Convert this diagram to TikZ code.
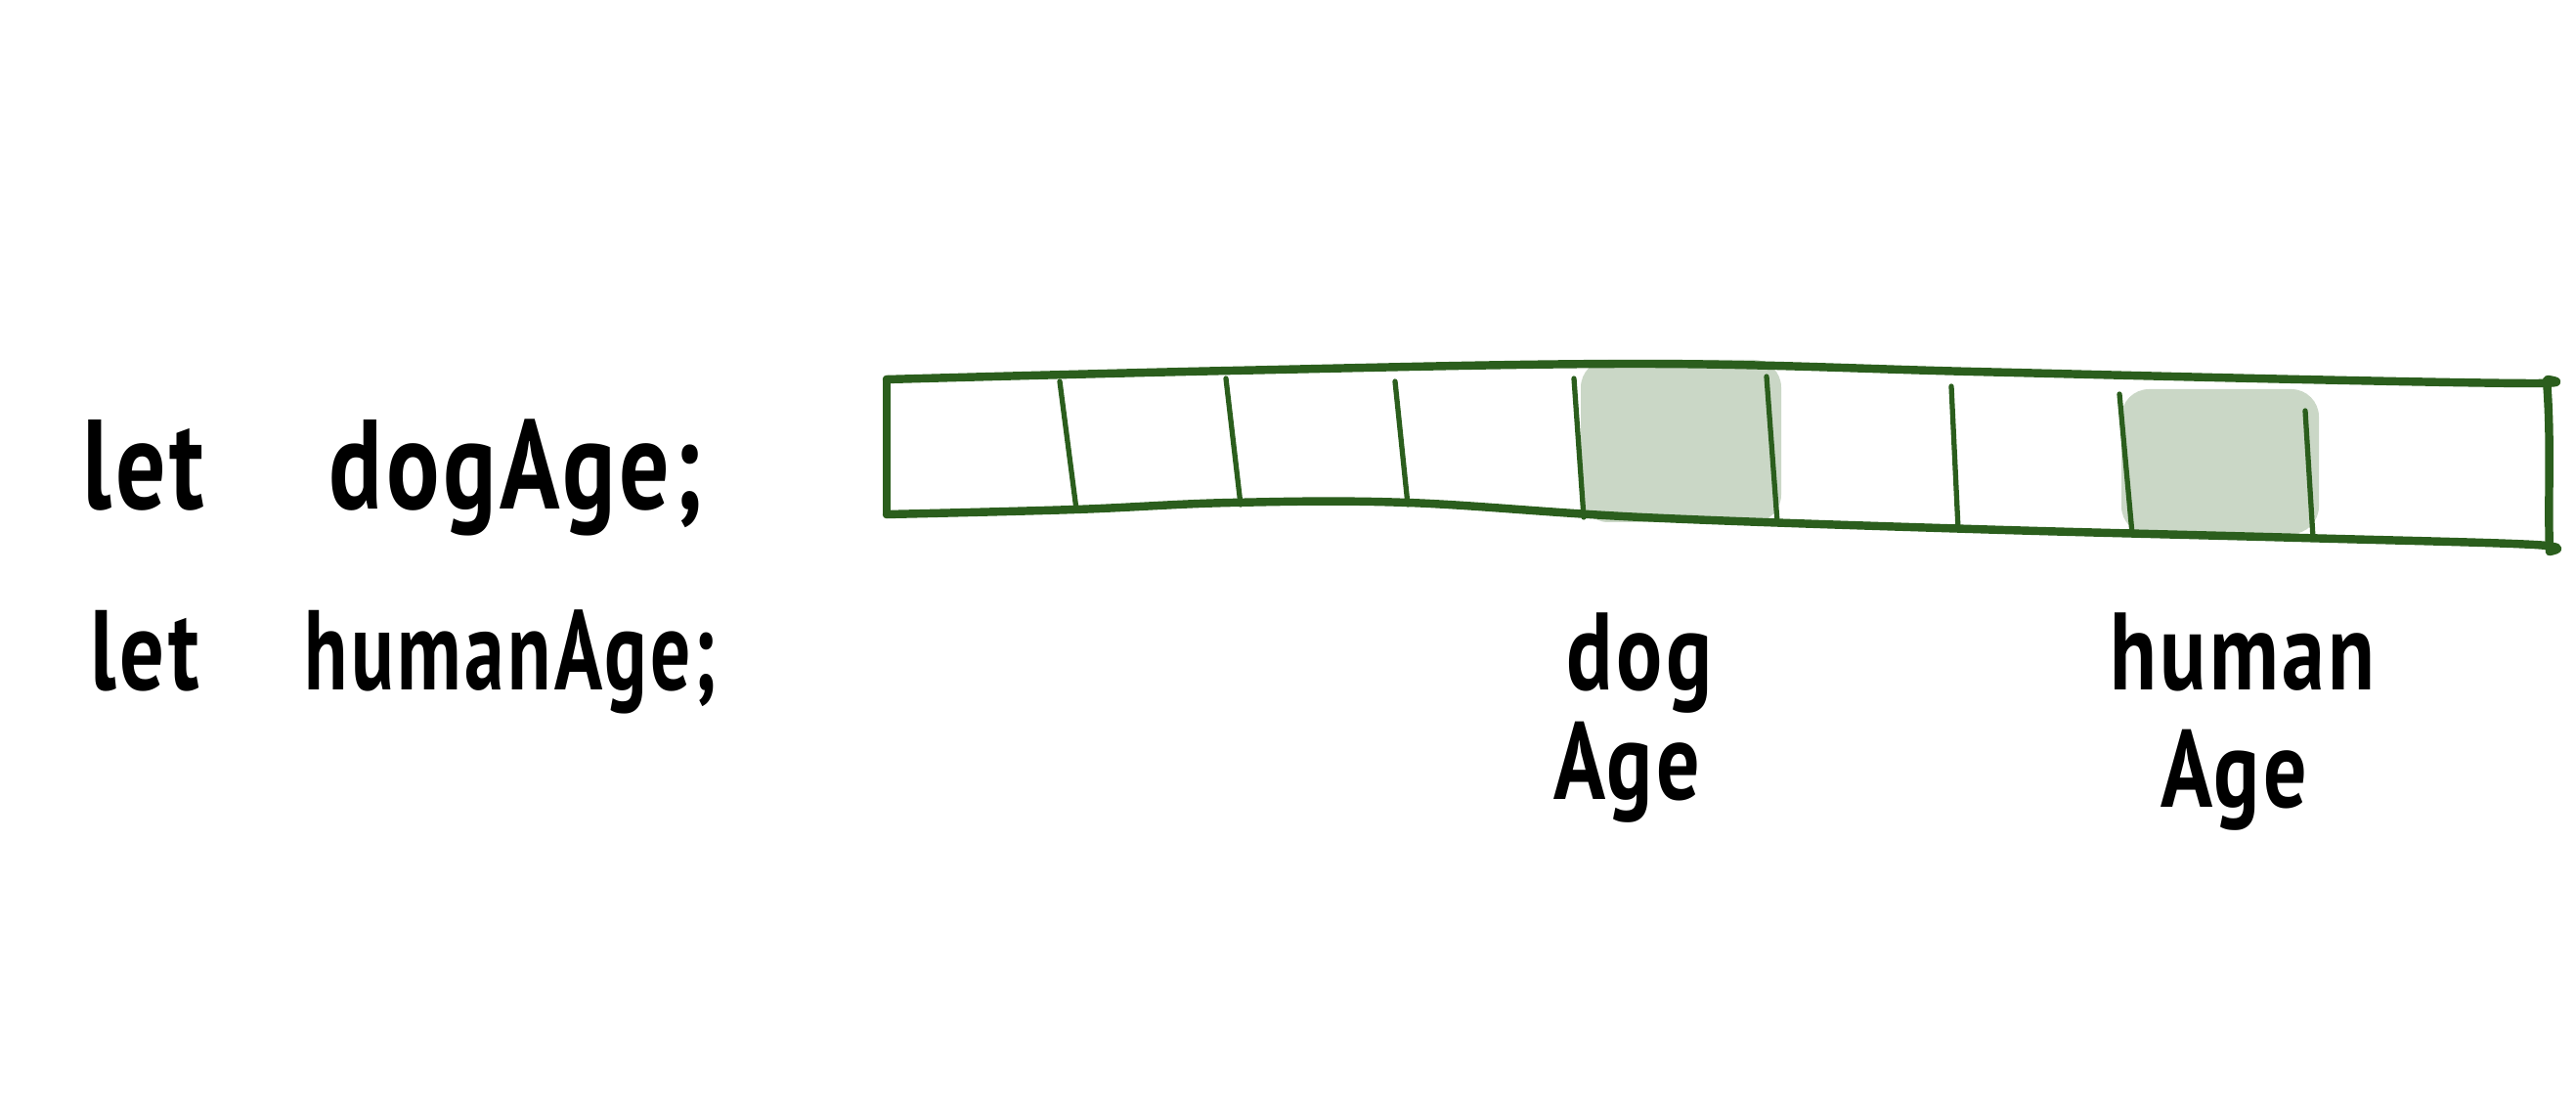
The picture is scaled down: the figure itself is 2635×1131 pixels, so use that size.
\documentclass[tikz,border=0pt]{standalone}
\usepackage{fontspec}
\setmainfont[FakeStretch=0.78,LetterSpace=3]{PT Sans}
\definecolor{strokegreen}{HTML}{2B5E1D}
\definecolor{cellshade}{HTML}{CAD7C6}
\begin{document}
\begin{tikzpicture}[x=0.01cm,y=-0.01cm,
  edge/.style={draw=strokegreen,line width=2.4pt,line cap=round,line join=round},
  divider/.style={draw=strokegreen,line width=1.5pt,line cap=round},
  shade/.style={fill=cellshade,rounded corners=8pt},
  codeA/.style={font=\fontsize{37}{40}\selectfont\bfseries,anchor=base west,inner sep=0pt},
  codeB/.style={font=\fontsize{33}{36}\selectfont\bfseries,anchor=base west,inner sep=0pt},
  codeC/.style={font=\fontsize{33}{36}\selectfont\bfseries\addfontfeatures{FakeStretch=0.7},anchor=base west,inner sep=0pt},
  lab/.style={font=\fontsize{32}{36}\selectfont\bfseries,anchor=base,inner sep=0pt}]
\useasboundingbox (0,0) rectangle (2635,1131);
% shaded cells
\path[shade] (1617,368) rectangle (1822,534);
\path[shade] (2170,398) rectangle (2372,546);
% strip outline
\draw[edge] plot[smooth,tension=0.6] coordinates {(907,388) (1260,379) (1680,372) (2017,380) (2353,388) (2592,392) (2606,388)};
\draw[edge] plot[smooth,tension=0.6] coordinates {(907,526) (1100,521) (1260,514) (1440,514) (1680,529) (2017,541) (2353,550) (2592,557) (2608,564)};
\draw[edge] (907,388) -- (907,526);
\draw[edge] (2605,389) .. controls (2610,450) and (2606,510) .. (2608,564);
% dividers
\draw[divider] (1084,390) -- (1101,521);
\draw[divider] (1254,387) -- (1269,516);
\draw[divider] (1427,390) -- (1440,516);
\draw[divider] (1610,387) -- (1620,529);
\draw[divider] (1807,385) -- (1818,534);
\draw[divider] (1996,395) -- (2003,541);
\draw[divider] (2168,403) -- (2181,546);
\draw[divider] (2358,420) -- (2366,550);
% code text
\node[codeA] (let1) at (84,521) {let};
\node[codeA] (decl1) at (336,521) {dogAge;};
\node[codeB] (let2) at (92,706) {let};
\node[codeC] (decl2) at (311,706) {humanAge;};
% labels
\node[lab] (dogA) at (1677,706) {dog};
\node[lab] (dogB) at (1664,818) {Age};
\node[lab] (humA) at (2294,706) {human};
\node[lab] (humB) at (2285,826) {Age};
\end{tikzpicture}
\end{document}
